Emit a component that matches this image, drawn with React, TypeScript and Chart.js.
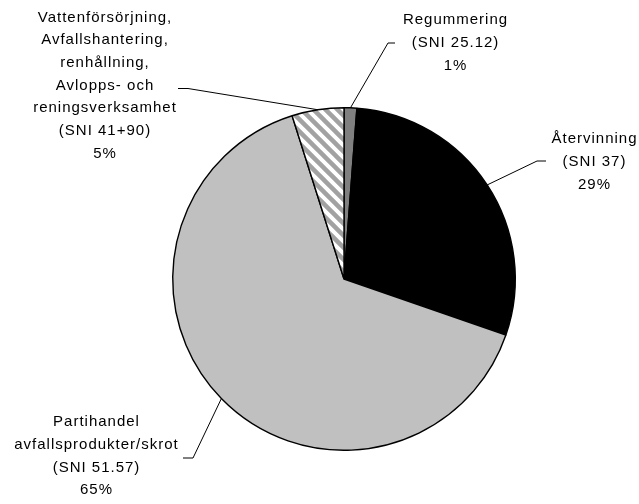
import React, { useEffect, useRef } from "react";
import { Chart, registerables } from "chart.js";

Chart.register(...registerables);

// ---- data ----
const categories = [
  "Regummering",
  "Återvinning",
  "Partihandel avfallsprodukter/skrot",
  "Vattenförsörjning, Avfallshantering, renhållning, Avlopps- och reningsverksamhet",
];
const labelLines = [
  ["Regummering"],
  ["Återvinning"],
  ["Partihandel", "avfallsprodukter/skrot"],
  ["Vattenförsörjning,", "Avfallshantering,", "renhållning,", "Avlopps- och", "reningsverksamhet"],
];
const sniCodes = ["SNI 25.12", "SNI 37", "SNI 51.57", "SNI 41+90"];
const shares = [1.2, 29.1, 64.8, 4.9];

// ---- layout of labels (positions only) ----
const labelLayout = [
  { cx: 455, top: 20, elbow: [388, 43], end: [395, 43] },
  { cx: 594, top: 139, elbow: [537, 161], end: [546, 161] },
  { cx: 96, top: 422, elbow: [193, 458], end: [183, 458] },
  { cx: 104.5, top: 17.5, elbow: [188, 88.5], end: [178, 88.5] },
];
const LINE_H = 22.7;

function makeHatch(): CanvasPattern | string {
  const c = document.createElement("canvas");
  const s = 12;
  c.width = s;
  c.height = s;
  const g = c.getContext("2d");
  if (!g) return "#ffffff";
  g.fillStyle = "#ffffff";
  g.fillRect(0, 0, s, s);
  g.strokeStyle = "#a2a2a2";
  g.lineWidth = 4.5;
  g.lineCap = "butt";
  // stripes along x - y = k*s  ("\" direction)
  for (const k of [-1, 0, 1]) {
    g.beginPath();
    g.moveTo(-s + k * s, -s);
    g.lineTo(2 * s + k * s, 2 * s);
    g.stroke();
  }
  const p = g.createPattern(c, "repeat");
  return p || "#ffffff";
}

const labelPlugin = {
  id: "leaderLabels",
  afterDraw(chart: any) {
    const ctx = chart.ctx as CanvasRenderingContext2D;
    const meta = chart.getDatasetMeta(0);
    ctx.save();
    meta.data.forEach((arc: any, i: number) => {
      const { x, y, startAngle, endAngle, outerRadius } = arc.getProps(
        ["x", "y", "startAngle", "endAngle", "outerRadius"],
        true
      );
      const mid = (startAngle + endAngle) / 2;
      const px = x + Math.cos(mid) * outerRadius;
      const py = y + Math.sin(mid) * outerRadius;
      const L = labelLayout[i];
      ctx.strokeStyle = "#000000";
      ctx.lineWidth = 1;
      ctx.beginPath();
      ctx.moveTo(px, py);
      ctx.lineTo(L.elbow[0], L.elbow[1]);
      ctx.lineTo(L.end[0], L.end[1]);
      ctx.stroke();

      const lines = [...labelLines[i], "(" + sniCodes[i] + ")", Math.round(shares[i]) + "%"];
      ctx.fillStyle = "#000000";
      ctx.font = '15px "Liberation Sans", Arial, sans-serif';
      (ctx as any).letterSpacing = "1px";
      ctx.textAlign = "center";
      ctx.textBaseline = "middle";
      lines.forEach((t, j) => {
        ctx.fillText(t, L.cx + 0.5, L.top + j * LINE_H);
      });
    });
    ctx.restore();
  },
};

export default function App() {
  const ref = useRef<HTMLCanvasElement>(null);
  useEffect(() => {
    document.body.style.margin = "0";
    if (!ref.current) return;
    const hatch = makeHatch();
    const chart = new Chart(ref.current, {
      type: "pie",
      data: {
        labels: categories,
        datasets: [
          {
            data: shares,
            backgroundColor: ["#808080", "#000000", "#c0c0c0", hatch as any],
            borderColor: "#000000",
            borderWidth: 1.4,
          },
        ],
      },
      options: {
        animation: false,
        responsive: false,
        maintainAspectRatio: false,
        layout: { padding: { left: 172, right: 123, top: 107, bottom: 53 } },
        plugins: {
          legend: { display: false },
          tooltip: { enabled: false },
          title: { display: false },
        },
      },
      plugins: [labelPlugin],
    });
    return () => chart.destroy();
  }, []);
  return (
    <div style={{ width: 639, height: 504, background: "#ffffff" }}>
      <canvas ref={ref} width={639} height={504} style={{ display: "block" }} />
    </div>
  );
}
